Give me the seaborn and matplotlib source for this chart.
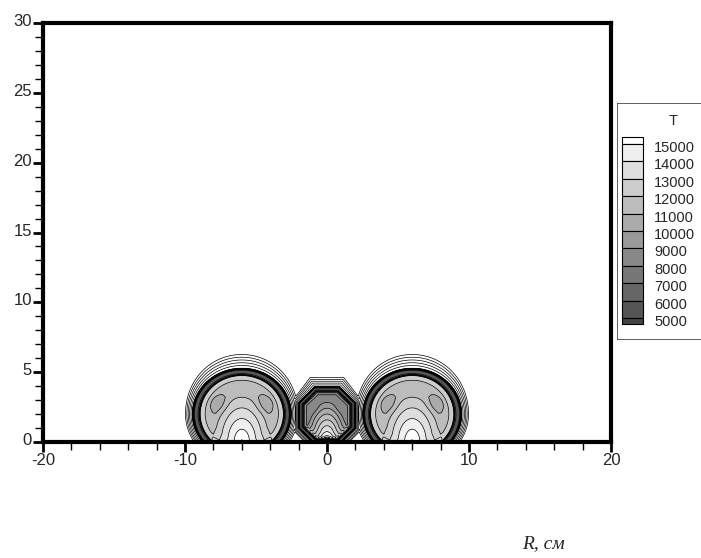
import numpy as np
import matplotlib
matplotlib.use("Agg")
import matplotlib.pyplot as plt
import matplotlib.transforms as mtransforms
from matplotlib.patches import Rectangle
from matplotlib.ticker import MultipleLocator
import seaborn as sns

# temperature levels of the contour map, K
levels = [5000, 6000, 7000, 8000, 9000, 10000, 11000, 12000, 13000, 14000, 15000]
outer_levels = [16000, 17000, 18000, 19000, 20000]
ambient_T = 21000

# plasmoids: axis position R, centre height Z, half-width, half-height, outline shape
blob_r = [-6.0, 0.0, 6.0]
blob_z = [2.0, 1.9, 2.0]
blob_w = [3.4, 1.95, 3.4]
blob_h = [3.2, 2.0, 3.2]
blob_shape = ["round", "octagon", "round"]

# radial temperature profile inside a plasmoid (normalised radius -> T)
profile_rho = [0.0, 0.6, 0.74, 0.78, 0.84, 0.86, 0.89, 0.95, 1.0]
profile_side = [11300, 11300, 11600, 12600, 12900, 12300, 6200, 5500, 4700]
profile_mid = [8600, 8600, 9000, 9800, 10200, 9000, 6200, 5500, 4700]
blob_profile = [profile_side, profile_mid, profile_side]

# cooler lobes on both flanks of a plasmoid: depth, polar angle (deg), angular width (deg)
lobe_depth = [900, 500, 900]
lobe_angle = [25, 30, 25]
lobe_spread = [22, 20, 22]

# thickness of the cooling shell around each plasmoid (sides, extra on top)
shell_side = [0.17, 0.22, 0.17]
shell_top = [0.2, 0.18, 0.2]

# hot jet on the axis of each plasmoid: peak excess, width, height, reach
jet_peak = [4900, 7200, 4900]
jet_w = [1.0, 1.0, 1.0]
jet_h = [1.7, 2.0, 1.7]
jet_reach = [2.2, 1.5, 2.2]

tick_x = [-20, -10, 0, 10, 20]
tick_y = [0, 5, 10, 15, 20, 25, 30]

sns.set_theme(style="white")
plt.rcParams["font.family"] = ["Liberation Sans", "DejaVu Sans"]
plt.rcParams["axes.unicode_minus"] = False

# computational grid
R = np.linspace(-20, 20, 2001)
Z = np.linspace(0, 9, 451)
RR, ZZ = np.meshgrid(R, Z)


def plasmoid(i):
    dx = RR - blob_r[i]
    dz = ZZ - blob_z[i]
    u = np.abs(dx) / blob_w[i]
    v = np.abs(dz) / blob_h[i]
    if blob_shape[i] == "round":
        rho = np.hypot(u, v)
    else:
        rho = np.maximum(np.maximum(u, v), (u + v) / 1.45)
    inside = np.interp(rho, profile_rho, blob_profile[i])
    # cooler lobes on the flanks
    theta = np.degrees(np.arctan2(dz / blob_h[i], u))
    lobe = (np.exp(-((theta - lobe_angle[i]) / lobe_spread[i]) ** 2)
            * np.exp(-((rho - 0.55) / 0.17) ** 2))
    inside = inside - lobe_depth[i] * lobe
    up = np.clip(dz / blob_h[i] / np.maximum(rho, 1e-6), 0, 1) ** 2
    width = shell_side[i] + shell_top[i] * up
    shell = (4700 + 10300 * np.clip((rho - 1.0) / 0.025, 0, 1)
             + (ambient_T - 15000) * np.clip((rho - 1.025) / width, 0, 1))
    T = np.where(rho < 1.0, inside, shell)
    s = np.hypot(dx / jet_w[i], ZZ / jet_h[i])
    jet = jet_peak[i] * np.clip(1 - s / jet_reach[i], 0, 1)
    fade = np.clip((0.9 - rho) / 0.1, 0, 1)
    return T + jet * fade


T = np.minimum.reduce([plasmoid(i) for i in range(len(blob_r))])

band_colors = sns.blend_palette(["#555555", "#efefef"], len(levels) - 1)
fill_colors = ["#444444"] + [matplotlib.colors.to_hex(c) for c in band_colors] + ["#ffffff"]

fig = plt.figure(figsize=(7.01, 5.58), dpi=100)
ax = fig.add_axes([43 / 701, 116 / 558, 568 / 701, 419 / 558])
ax.contourf(RR, ZZ, T, levels=[0] + levels + [1e6], colors=fill_colors)
ax.contour(RR, ZZ, T, levels=levels + outer_levels, colors="black", linewidths=0.5)

ax.set_xlim(-20, 20)
ax.set_ylim(0, 30)
ax.set_xticks(tick_x)
ax.set_yticks(tick_y)
ax.xaxis.set_minor_locator(MultipleLocator(2))
ax.yaxis.set_minor_locator(MultipleLocator(1))
ax.tick_params(axis="both", which="major", direction="out", length=7, width=2,
               color="black", labelsize=12, pad=1, bottom=True, left=True)
ax.tick_params(axis="both", which="minor", direction="out", length=6, width=1,
               color="black", bottom=True, left=True)
lift = mtransforms.ScaledTranslation(0, 3 / 100, fig.dpi_scale_trans)
for lbl in ax.get_yticklabels():
    lbl.set_transform(lbl.get_transform() + lift)
for sp in ax.spines.values():
    sp.set_linewidth(3)
    sp.set_color("black")
    sp.set_zorder(5)
ax.grid(False)

fig.text(522 / 701, 10 / 558, "R, см", fontsize=14, style="italic",
         family=["Liberation Serif", "DejaVu Serif"], ha="left", va="baseline")

# contour legend
lax = fig.add_axes([617 / 701, 218 / 558, 90 / 701, 237 / 558])
lax.set_xlim(0, 90)
lax.set_ylim(237, 0)
lax.axis("off")
lax.add_patch(Rectangle((0, 0), 89, 237, fill=False, edgecolor="#444444", lw=1.2))
lax.text(56, 18, "T", ha="center", va="center", fontsize=10.5)
top, step = 34, 17.4
n = len(levels)
lax.add_patch(Rectangle((5, top), 21, 7, facecolor="#ffffff", edgecolor="black", lw=0.8))
for k, lev in enumerate(reversed(levels)):
    y0 = top + 7 + k * step
    h = step if k < n - 1 else 6
    lax.add_patch(Rectangle((5, y0), 21, h, facecolor=fill_colors[n - 1 - k],
                            edgecolor="black", lw=0.8))
    lax.text(37, y0 + 4, f"{lev}", ha="left", va="center", fontsize=10.5)

fig.savefig("out.png", dpi=100)
